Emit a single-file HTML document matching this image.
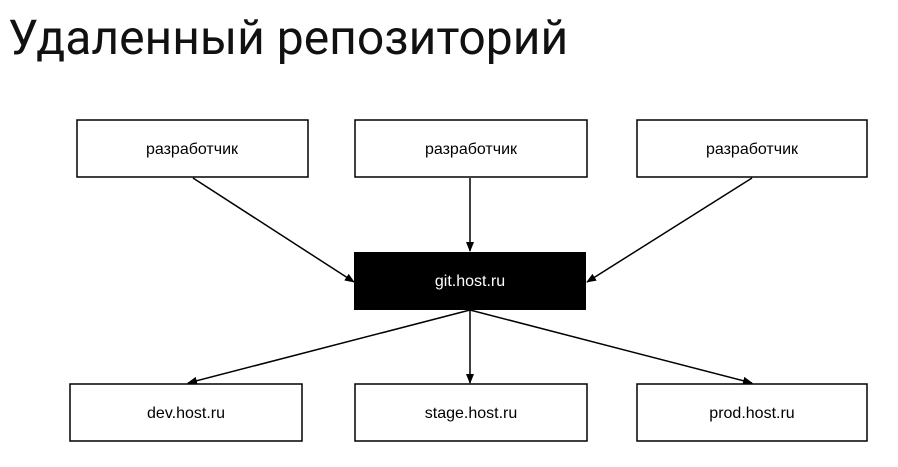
<!DOCTYPE html>
<html><head><meta charset="utf-8"><style>
body{margin:0;background:#fff;width:898px;height:462px;overflow:hidden}
</style></head><body>
<svg width="898" height="462" xmlns="http://www.w3.org/2000/svg" font-family="Liberation Sans, sans-serif">
<defs><marker id="a" markerWidth="10" markerHeight="8" refX="9" refY="4" orient="auto" markerUnits="userSpaceOnUse"><path d="M0,0 L10,4 L0,8 Z" fill="#000"/></marker></defs>
<text x="8" y="54" font-size="48" font-family="Roboto, Liberation Sans, DejaVu Sans, sans-serif" fill="#111">Удаленный репозиторий</text>
<g fill="#fff" stroke="#000" stroke-width="1.5">
<rect x="77" y="120" width="231" height="57"/>
<rect x="355" y="120" width="232" height="57"/>
<rect x="637" y="120" width="230" height="57"/>
<rect x="70" y="384" width="232" height="57"/>
<rect x="355" y="384" width="232" height="57"/>
<rect x="637" y="384" width="230" height="57"/>
</g>
<rect x="354" y="252" width="232" height="58" fill="#000"/>
<g font-size="16" text-anchor="middle" fill="#000">
<text x="192" y="154">разработчик</text>
<text x="471" y="154">разработчик</text>
<text x="752" y="154">разработчик</text>
<text x="186" y="418">dev.host.ru</text>
<text x="471" y="418">stage.host.ru</text>
<text x="752" y="418">prod.host.ru</text>
<text x="470" y="286" fill="#fff">git.host.ru</text>
</g>
<g stroke="#000" stroke-width="1.5" marker-end="url(#a)">
<line x1="193" y1="178" x2="354" y2="282"/>
<line x1="470" y1="178" x2="470" y2="251"/>
<line x1="752" y1="178" x2="587" y2="282"/>
<line x1="470" y1="310" x2="188" y2="383"/>
<line x1="470" y1="310" x2="470" y2="383"/>
<line x1="470" y1="310" x2="752" y2="383"/>
</g>
</svg>
</body></html>
